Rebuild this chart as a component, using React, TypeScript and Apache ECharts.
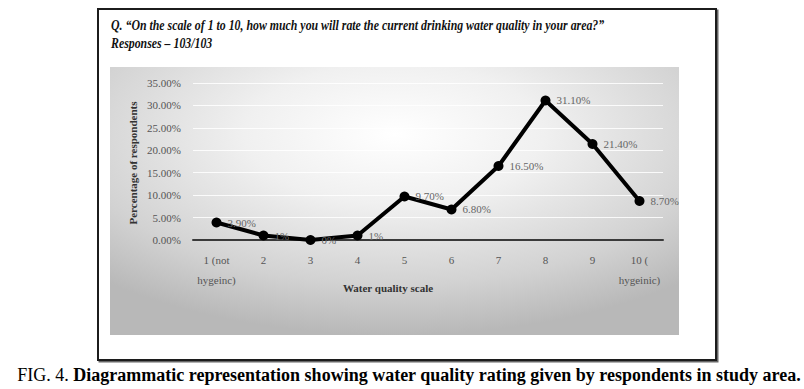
import React, { useEffect, useRef } from "react";
import * as echarts from "echarts";

const categories = ["1 (not\nhygeinc)", "2", "3", "4", "5", "6", "7", "8", "9", "10 (\nhygeinic)"];
const percentages = [3.9, 1, 0, 1, 9.7, 6.8, 16.5, 31.1, 21.4, 8.7];
const pointLabels = ["3.90%", "1%", "0%", "1%", "9.70%", "6.80%", "16.50%", "31.10%", "21.40%", "8.70%"];
const titleLine1 = "Q. \u201COn the scale of 1 to 10, how much you will rate the current drinking water quality in your area?\u201D";
const titleLine2 = "Responses \u2013 103/103";
const yAxisTitle = "Percentage of respondents";
const xAxisTitle = "Water quality scale";
const captionPrefix = "FIG. 4. ";
const captionText = "Diagrammatic representation showing water quality rating given by respondents in study area.";

const SERIF = "Liberation Serif";

export default function App() {
  const ref = useRef<HTMLDivElement>(null);
  useEffect(() => {
    document.body.style.margin = "0";
    const chart = echarts.init(ref.current!, null, { renderer: "svg" });
    chart.setOption({
      animation: false,
      backgroundColor: "#ffffff",
      grid: { left: 193, right: 141, top: 83, bottom: 149, containLabel: false },
      graphic: [
        {
          type: "rect",
          z: -10,
          shape: { x: 98, y: 9, width: 618, height: 351 },
          style: { fill: "#ffffff", stroke: "#1a1a1a", lineWidth: 2, shadowColor: "rgba(0,0,0,0.6)", shadowOffsetX: 1.5, shadowOffsetY: 1.5, shadowBlur: 1 },
        },
        {
          type: "rect",
          z: -9,
          shape: { x: 110, y: 67, width: 569, height: 268 },
          style: {
            fill: new echarts.graphic.RadialGradient(0.5, 0.25, 0.75, [
              { offset: 0, color: "#ffffff" },
              { offset: 0.35, color: "#f0f0f0" },
              { offset: 0.75, color: "#d2d2d2" },
              { offset: 1, color: "#b8b8b8" },
            ]),
          },
        },
        {
          type: "text",
          x: 111,
          y: 25,
          scaleX: 0.79,
          style: { text: titleLine1, fontFamily: SERIF, fontStyle: "italic", fontWeight: "bold", fontSize: 15, fill: "#111", verticalAlign: "middle" },
        },
        {
          type: "text",
          x: 111,
          y: 43,
          scaleX: 0.79,
          style: { text: titleLine2, fontFamily: SERIF, fontStyle: "italic", fontWeight: "bold", fontSize: 15, fill: "#111", verticalAlign: "middle" },
        },
        {
          type: "text",
          x: 133,
          y: 163,
          rotation: Math.PI / 2,
          style: { text: yAxisTitle, fontFamily: SERIF, fontWeight: "bold", fontSize: 11, fill: "#333", align: "center", verticalAlign: "middle" },
        },
        {
          type: "text",
          x: 388,
          y: 288,
          style: { text: xAxisTitle, fontFamily: SERIF, fontWeight: "bold", fontSize: 11, fill: "#333", align: "center", verticalAlign: "middle" },
        },
        {
          type: "text",
          x: 409,
          y: 375,
          style: {
            text: `{a|${captionPrefix}}{b|${captionText}}`,
            align: "center",
            verticalAlign: "middle",
            rich: {
              a: { fontFamily: SERIF, fontSize: 18, fill: "#000" },
              b: { fontFamily: SERIF, fontWeight: "bold", fontSize: 18, fill: "#000" },
            },
          },
        },
      ],
      xAxis: {
        type: "category",
        data: categories,
        boundaryGap: true,
        axisLine: { lineStyle: { color: "#3a3a3a", width: 2 } },
        axisTick: { show: false },
        axisLabel: { fontFamily: SERIF, fontSize: 11, color: "#555", margin: 10, lineHeight: 20, interval: 0 },
        splitLine: { show: false },
      },
      yAxis: {
        type: "value",
        min: 0,
        max: 35,
        interval: 5,
        axisLine: { show: false },
        axisTick: { show: false },
        axisLabel: { fontFamily: SERIF, fontSize: 11, color: "#555", margin: 12, formatter: (v: number) => v.toFixed(2) + "%" },
        splitLine: { lineStyle: { color: "rgba(255,255,255,0.85)", width: 1 } },
      },
      series: [
        {
          type: "line",
          data: percentages,
          symbol: "circle",
          symbolSize: 10,
          lineStyle: { color: "#000", width: 4 },
          itemStyle: { color: "#000" },
          label: {
            show: true,
            position: "right",
            distance: 6,
            fontFamily: SERIF,
            fontSize: 11,
            color: "#666",
            formatter: (p: any) => pointLabels[p.dataIndex],
          },
        },
      ],
    });
    return () => chart.dispose();
  }, []);
  return <div ref={ref} style={{ width: 804, height: 389 }} />;
}
